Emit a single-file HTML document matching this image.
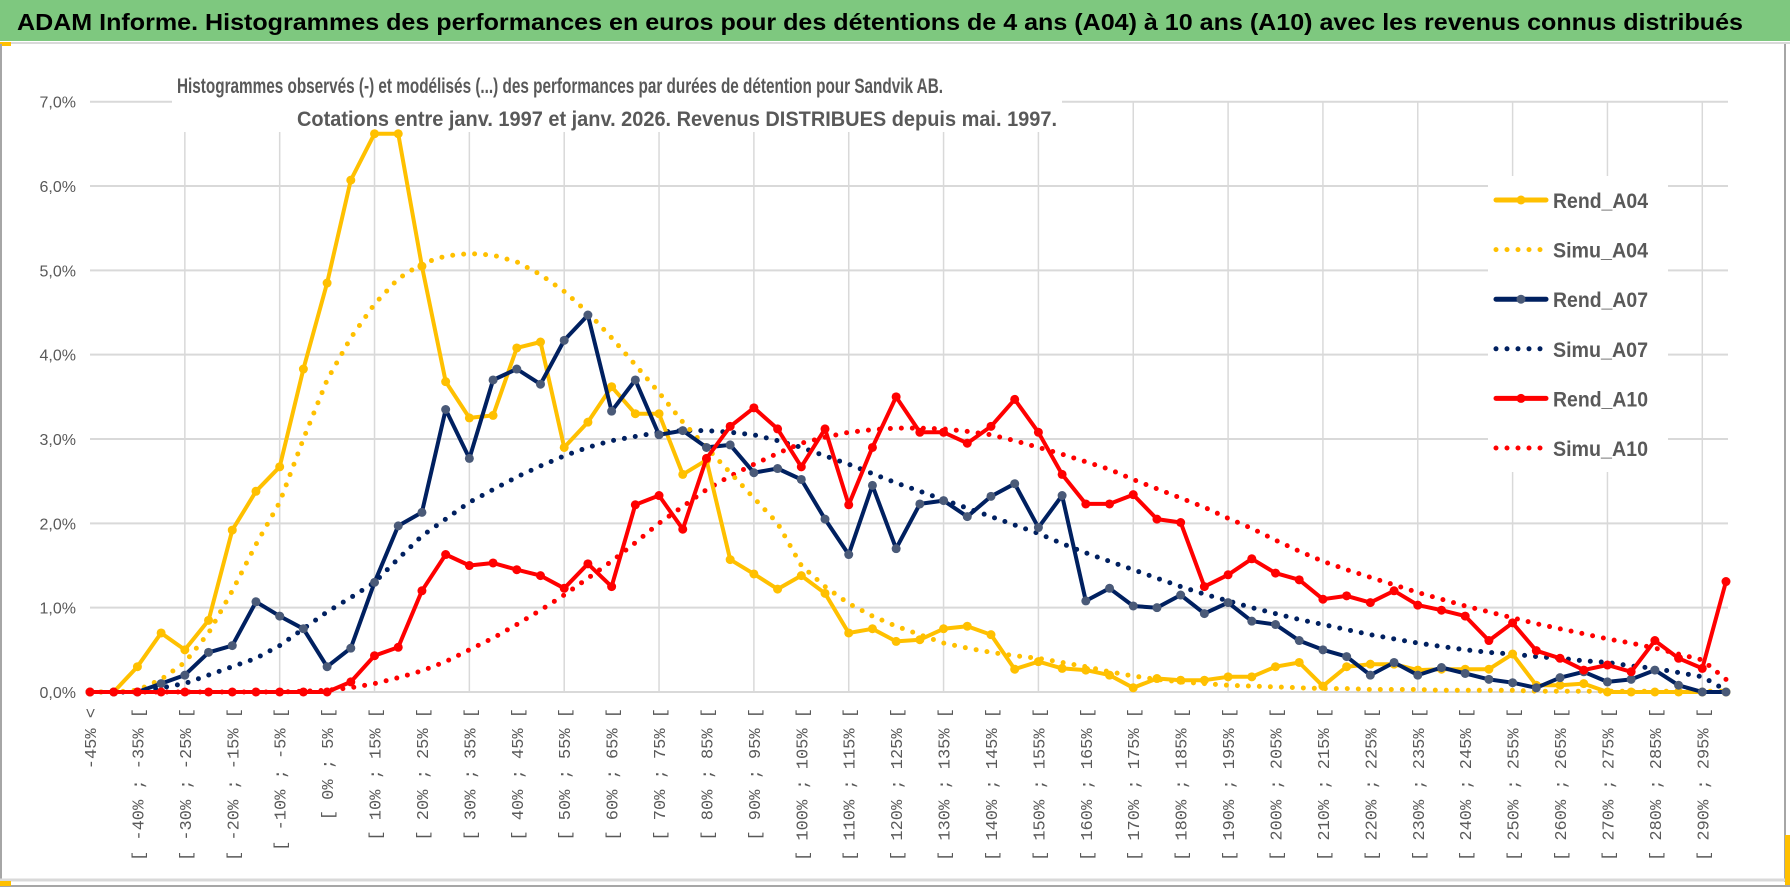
<!DOCTYPE html>
<html><head><meta charset="utf-8"><style>
html,body{margin:0;padding:0;background:#fff;}
svg{display:block;font-family:"Liberation Sans",sans-serif;}
</style></head><body>
<svg id="chart" width="1790" height="888" viewBox="0 0 1790 888" xmlns="http://www.w3.org/2000/svg">
<rect x="0" y="0" width="1790" height="888" fill="#fff"/>
<rect x="0" y="0" width="1790" height="41" fill="#7ec87f"/>
<line x1="0" y1="43" x2="1790" y2="43" stroke="#d9d9d9" stroke-width="2"/>
<rect x="0" y="42" width="11" height="4" fill="#ffc000"/>
<text x="17" y="30" font-size="23" font-weight="bold" fill="#000" textLength="1726" lengthAdjust="spacingAndGlyphs">ADAM Informe. Histogrammes des performances en euros pour des détentions de 4 ans (A04) à 10 ans (A10) avec les revenus connus distribués</text>
<line x1="1" y1="44" x2="1" y2="882" stroke="#a6a6a6" stroke-width="2"/>
<line x1="1785" y1="44" x2="1785" y2="882" stroke="#a6a6a6" stroke-width="2"/>
<line x1="0" y1="880" x2="1790" y2="880" stroke="#d9d9d9" stroke-width="3"/>
<line x1="0" y1="886" x2="1790" y2="886" stroke="#a6a6a6" stroke-width="2"/>
<rect x="0" y="881" width="11" height="5" fill="#ffc000"/>
<rect x="1785" y="835" width="5" height="50" fill="#ffc000"/>
<g id="grid"></g>
<g id="yaxis"></g>
<g id="xaxis"></g>
<g>
<rect x="172" y="62" width="890" height="70" fill="#fff"/>
<text x="560" y="93" font-size="21" font-weight="bold" fill="#595959" text-anchor="middle" textLength="766" lengthAdjust="spacingAndGlyphs">Histogrammes observés (-) et modélisés (...) des performances par durées de détention pour Sandvik AB.</text>
<text x="677" y="126" font-size="21" font-weight="bold" fill="#595959" text-anchor="middle" textLength="760" lengthAdjust="spacingAndGlyphs">Cotations entre janv. 1997 et janv. 2026. Revenus DISTRIBUES depuis mai. 1997.</text>
</g>
<g id="series"></g>
<g id="legend"><rect x="1488" y="176" width="180" height="296" fill="#fff"/></g>
</svg>
<script>
const categories = (function(){const c=["-45% <"];for(let k=-45;k<300;k+=5){c.push("[ "+k+"% ; "+(k+5)+"% [");}return c;})();
const yTicks = [0,1,2,3,4,5,6,7];
const yTickLabels = ["0,0%","1,0%","2,0%","3,0%","4,0%","5,0%","6,0%","7,0%"];
const rendA04 = [0,0,0.3,0.7,0.5,0.85,1.92,2.38,2.67,3.83,4.85,6.07,6.62,6.62,5.05,3.68,3.25,3.28,4.08,4.15,2.9,3.2,3.62,3.3,3.3,2.58,2.75,1.57,1.4,1.22,1.38,1.17,0.7,0.75,0.6,0.62,0.75,0.78,0.68,0.27,0.36,0.28,0.26,0.2,0.05,0.16,0.14,0.14,0.18,0.18,0.3,0.35,0.07,0.3,0.33,0.33,0.26,0.27,0.27,0.27,0.45,0.08,0.08,0.1,0,0,0,0,0,0];
const simuA04 = [0,0,0.02,0.15,0.35,0.7,1.2,1.75,2.25,3.0,3.7,4.2,4.6,4.9,5.08,5.17,5.2,5.18,5.1,4.95,4.75,4.5,4.2,3.88,3.55,3.2,2.9,2.6,2.3,2.0,1.5,1.25,1.05,0.9,0.78,0.68,0.58,0.52,0.47,0.43,0.4,0.35,0.3,0.24,0.19,0.15,0.12,0.1,0.08,0.07,0.06,0.05,0.04,0.04,0.03,0.03,0.03,0.02,0.02,0.02,0.02,0.01,0.01,0.01,0.01,0.01,0.01,0.01,0.01,0.01];
const rendA07 = [0,0,0,0.1,0.2,0.47,0.55,1.07,0.9,0.75,0.3,0.52,1.3,1.97,2.13,3.35,2.77,3.7,3.83,3.65,4.17,4.47,3.33,3.7,3.05,3.1,2.9,2.93,2.6,2.65,2.52,2.05,1.63,2.45,1.7,2.23,2.27,2.08,2.32,2.47,1.95,2.33,1.08,1.23,1.02,1.0,1.15,0.93,1.06,0.84,0.8,0.61,0.5,0.42,0.2,0.35,0.2,0.29,0.22,0.15,0.11,0.05,0.17,0.24,0.12,0.15,0.26,0.08,0,0];
const simuA07 = [0,0,0,0.05,0.1,0.2,0.3,0.4,0.55,0.75,0.95,1.12,1.3,1.58,1.85,2.05,2.25,2.4,2.55,2.68,2.8,2.9,2.98,3.03,3.08,3.1,3.1,3.08,3.05,2.98,2.9,2.8,2.7,2.59,2.48,2.38,2.28,2.18,2.08,1.98,1.88,1.76,1.65,1.55,1.45,1.35,1.25,1.16,1.08,1.0,0.93,0.86,0.8,0.74,0.68,0.63,0.58,0.54,0.5,0.47,0.45,0.42,0.4,0.37,0.35,0.31,0.28,0.23,0.18,0.02];
const rendA10 = [0,0,0,0,0,0,0,0,0,0,0,0.12,0.43,0.53,1.2,1.63,1.5,1.53,1.45,1.38,1.23,1.52,1.25,2.22,2.33,1.93,2.77,3.15,3.37,3.12,2.67,3.12,2.22,2.9,3.5,3.08,3.08,2.95,3.15,3.47,3.08,2.58,2.23,2.23,2.34,2.05,2.01,1.25,1.39,1.58,1.41,1.33,1.1,1.14,1.06,1.2,1.03,0.97,0.9,0.61,0.82,0.49,0.4,0.26,0.32,0.24,0.61,0.4,0.28,1.31];
const simuA10 = [0,0,0,0,0,0,0,0,0,0.01,0.02,0.05,0.1,0.17,0.25,0.36,0.5,0.64,0.8,0.97,1.15,1.35,1.55,1.77,2.0,2.2,2.4,2.56,2.7,2.83,2.95,3.02,3.08,3.11,3.13,3.13,3.12,3.09,3.05,2.98,2.9,2.82,2.73,2.64,2.52,2.41,2.3,2.19,2.06,1.94,1.8,1.67,1.55,1.45,1.36,1.27,1.18,1.1,1.02,0.95,0.88,0.81,0.75,0.69,0.63,0.58,0.52,0.45,0.38,0.15];
const seriesNames = ["Rend_A04","Simu_A04","Rend_A07","Simu_A07","Rend_A10","Simu_A10"];

const NS="http://www.w3.org/2000/svg";
const X0=90, X1=1726, Y0=692, Y7=101.7;
const xS=i=>X0+i*(X1-X0)/(categories.length-1);
const yS=v=>Y0-v*(Y0-Y7)/7;
function mk(tag,parent,attrs){const e=document.createElementNS(NS,tag);for(const k in attrs)e.setAttribute(k,attrs[k]);parent.appendChild(e);return e;}
const grid=document.getElementById('grid'), yax=document.getElementById('yaxis'), xax=document.getElementById('xaxis'), ser=document.getElementById('series'), leg=document.getElementById('legend');
yTicks.forEach((t,j)=>{
  const l=mk('line',grid,{x1:X0,x2:X1+2,y1:yS(t),y2:yS(t),stroke:'#d9d9d9','stroke-width':2});
  
  
  const tx=mk('text',yax,{x:76,y:yS(t)+6,'font-size':16,fill:'#595959','text-anchor':'end'});
  tx.textContent=yTickLabels[j];
  
  
});
for(let i=4;i<categories.length;i+=4){
  const l=mk('line',grid,{x1:xS(i),x2:xS(i),y1:yS(7),y2:Y0,stroke:'#d9d9d9','stroke-width':1.5});
  
  
}
categories.forEach((c,i)=>{
  if(i%2) return;
  const x=xS(i)+6, y=708;
  const tx=mk('text',xax,{x:x,y:y,'font-size':17,'font-family':'Liberation Mono, monospace',fill:'#595959','text-anchor':'end',transform:'rotate(-90 '+x+' '+y+')'});
  tx.textContent=c;
  
  
});
function pts(a){return a.map((v,i)=>xS(i).toFixed(1)+','+yS(v).toFixed(1)).join(' ');}
function dotted(a,col,name){
  const p=mk('polyline',ser,{points:pts(a),fill:'none',stroke:col,'stroke-width':5,'stroke-linecap':'round','stroke-dasharray':'0 11'});
  
  
}
function solid(a,col,mcol,name){
  const p=mk('polyline',ser,{points:pts(a),fill:'none',stroke:col,'stroke-width':4,'stroke-linejoin':'round'});
  
  
  a.forEach((v,i)=>{
    const c=mk('circle',ser,{cx:xS(i),cy:yS(v),r:4.5,fill:mcol});
    
    
  });
}
dotted(simuA10,'#ff0000','simu-a10-line');
dotted(simuA07,'#002060','simu-a07-line');
dotted(simuA04,'#ffc000','simu-a04-line');
solid(rendA04,'#ffc000','#ffc000','rend-a04-line');
solid(rendA07,'#002060','#4a5a78','rend-a07-line');
solid(rendA10,'#ff0000','#ff0000','rend-a10-line');
const legCols=['#ffc000','#ffc000','#002060','#002060','#ff0000','#ff0000'];
seriesNames.forEach((n,j)=>{
  const y=200+j*49.6;
  const g=mk('g',leg,{});
  
  
  if(j%2===0){
    mk('line',g,{x1:1496,x2:1546,y1:y,y2:y,stroke:legCols[j],'stroke-width':5,'stroke-linecap':'round'});
    mk('circle',g,{cx:1521,cy:y,r:4.5,fill:j===2?'#4a5a78':legCols[j]});
  } else {
    mk('line',g,{x1:1496,x2:1546,y1:y,y2:y,stroke:legCols[j],'stroke-width':5,'stroke-linecap':'round','stroke-dasharray':'0 11'});
  }
  const t=mk('text',g,{x:1553,y:y+8,'font-size':21,'font-weight':'bold',fill:'#595959',textLength:95,lengthAdjust:'spacingAndGlyphs'});
  t.textContent=n;
});
</script>
</body></html>
